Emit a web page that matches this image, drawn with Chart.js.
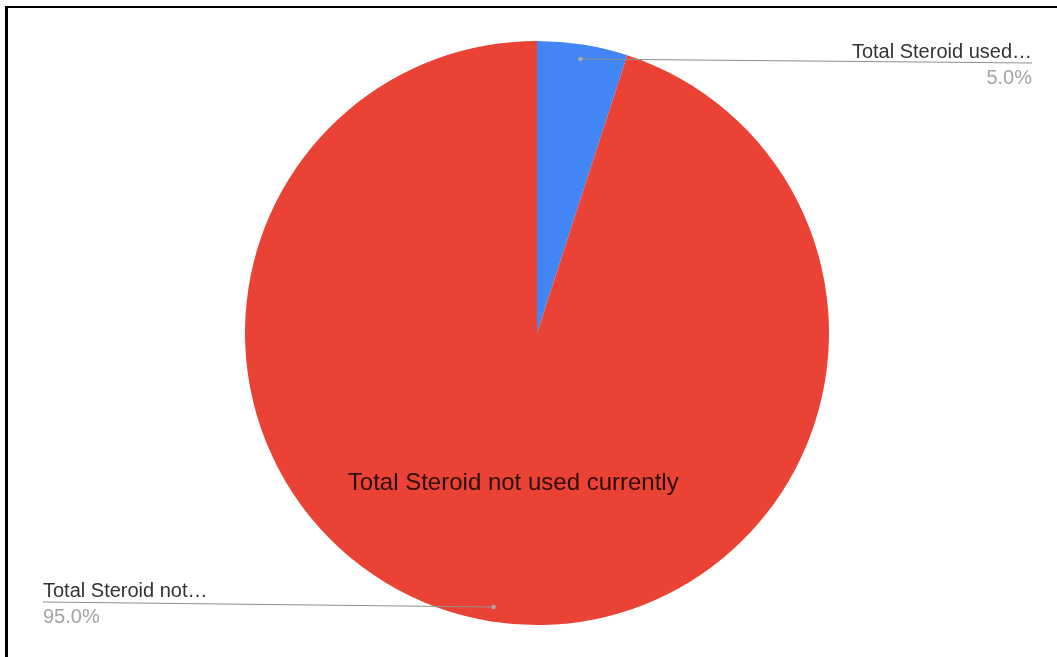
<!DOCTYPE html>
<html lang="en">
<head>
    <meta charset="UTF-8">
    <title>Total Steroid Use</title>
    <script src="https://cdn.jsdelivr.net/npm/chart.js"></script>
    <style>
        html, body { margin: 0; padding: 0; background: #fff; }
        #wrap { position: relative; width: 1057px; height: 657px; }
    </style>
</head>
<body>
    <div id="wrap">
        <canvas id="steroidChart" width="1057" height="657"></canvas>
    </div>

    <script>
        const categories = ['Total Steroid used currently', 'Total Steroid not used currently'];
        const shares = [5, 95];
        const sliceColors = ['#4285f4', '#ea4335'];

        const FONT = '"Liberation Sans", Arial, sans-serif';

        // cut a label down word by word until it fits, Sheets style
        function shorten(ctx, text, maxW) {
            if (ctx.measureText(text).width <= maxW) return text;
            const words = text.split(' ');
            while (words.length > 1) {
                words.pop();
                const t = words.join(' ') + '\u2026';
                if (ctx.measureText(t).width <= maxW) return t;
            }
            return words[0] + '\u2026';
        }

        const frame = {
            id: 'frame',
            afterDraw(chart) {
                const ctx = chart.ctx;
                ctx.save();
                ctx.fillStyle = '#000';
                ctx.fillRect(5, 6, chart.width - 5, 2);
                ctx.fillRect(5, 6, 3, chart.height - 6);
                ctx.restore();
            }
        };

        const sliceLabels = {
            id: 'sliceLabels',
            afterDatasetsDraw(chart) {
                const ctx = chart.ctx;
                const meta = chart.getDatasetMeta(0);
                const values = chart.data.datasets[0].data;
                const total = values.reduce((a, b) => a + b, 0);

                meta.data.forEach((arc, i) => {
                    const p = arc.getProps(['x', 'y', 'startAngle', 'endAngle', 'outerRadius']);
                    const mid = (p.startAngle + p.endAngle) / 2;
                    const span = p.endAngle - p.startAngle;
                    const cos = Math.cos(mid), sin = Math.sin(mid);
                    const label = chart.data.labels[i];
                    const pct = (values[i] / total * 100).toFixed(1) + '%';

                    ctx.save();

                    // name inside the slice when it is big enough
                    if (span > Math.PI / 2) {
                        const r = p.outerRadius * 0.52;
                        ctx.font = '24px ' + FONT;
                        ctx.fillStyle = 'rgba(0,0,0,0.82)';
                        ctx.textAlign = 'center';
                        ctx.textBaseline = 'middle';
                        ctx.fillText(label, p.x + r * cos, p.y + r * sin);
                    }

                    // leader line out to the side label
                    const dx = p.x + p.outerRadius * 0.95 * cos;
                    const dy = p.y + p.outerRadius * 0.95 * sin;
                    const right = cos >= 0;
                    const ex = right ? chart.width - 25 : 43;
                    const ey = dy + (dy < p.y ? 4 : -5);

                    ctx.strokeStyle = '#8f8f8f';
                    ctx.lineWidth = 1.2;
                    ctx.beginPath();
                    ctx.moveTo(dx, dy);
                    ctx.lineTo(ex, ey);
                    ctx.stroke();

                    ctx.fillStyle = '#a8a8a8';
                    ctx.beginPath();
                    ctx.arc(dx, dy, 2.2, 0, Math.PI * 2);
                    ctx.fill();

                    ctx.font = '20px ' + FONT;
                    ctx.textAlign = right ? 'right' : 'left';
                    ctx.textBaseline = 'alphabetic';
                    ctx.fillStyle = '#333';
                    ctx.fillText(shorten(ctx, label, 190), ex, ey - 5);
                    ctx.fillStyle = '#a3a3a3';
                    ctx.textBaseline = 'top';
                    ctx.fillText(pct, ex, ey + 5);

                    ctx.restore();
                });
            }
        };

        const ctx = document.getElementById('steroidChart').getContext('2d');
        new Chart(ctx, {
            type: 'pie',
            data: {
                labels: categories,
                datasets: [{
                    data: shares,
                    backgroundColor: sliceColors,
                    borderWidth: 0
                }]
            },
            options: {
                responsive: false,
                animation: false,
                layout: {
                    padding: { top: 41, bottom: 32, left: 245, right: 228 }
                },
                plugins: {
                    legend: { display: false },
                    tooltip: { enabled: false }
                }
            },
            plugins: [sliceLabels, frame]
        });
    </script>
</body>
</html>
